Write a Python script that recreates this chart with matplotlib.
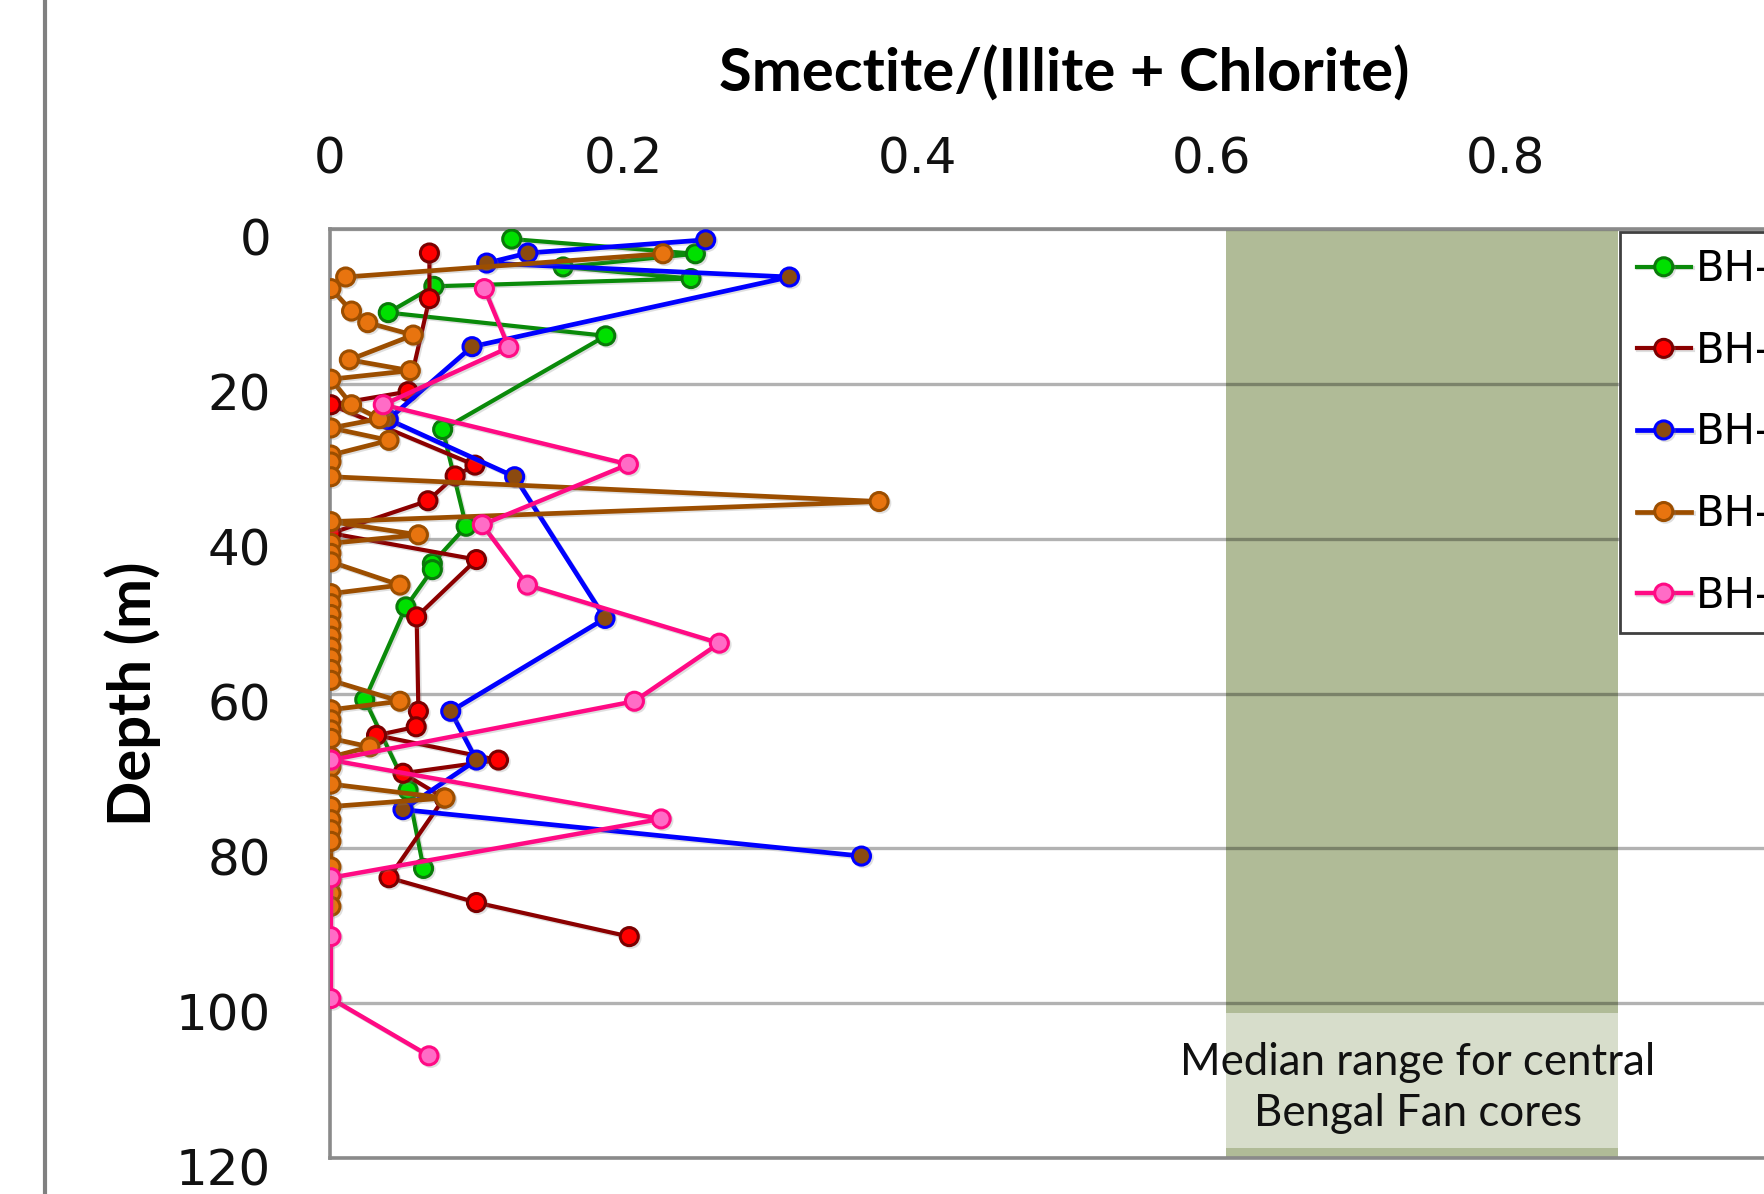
import matplotlib
matplotlib.use("Agg")
import matplotlib.pyplot as plt
import matplotlib.patheffects as pe
from matplotlib.lines import Line2D
from matplotlib.patches import Rectangle
from matplotlib.transforms import ScaledTranslation

# Clay-mineral ratio profiles with depth for five boreholes
series_labels = ["BH-1", "BH-2", "BH-3", "BH-4", "BH-5"]

bh1_ratio = [0.124, 0.249, 0.159, 0.246, 0.071, 0.040, 0.188, 0.077, 0.093,
             0.070, 0.070, 0.052, 0.024, 0.0535, 0.064]
bh1_depth = [1.3, 3.2, 4.9, 6.4, 7.4, 10.8, 13.8, 25.9, 38.4,
             43.2, 44.0, 48.8, 60.8, 72.5, 82.6]

bh2_ratio = [0.068, 0.068, 0.0535, 0.001, 0.099, 0.0855, 0.067, 0.001, 0.100,
             0.0593, 0.0605, 0.059, 0.032, 0.115, 0.050, 0.078, 0.0405, 0.100, 0.204]
bh2_depth = [3.1, 9.0, 21.0, 22.7, 30.5, 31.9, 35.1, 39.3, 42.7,
             50.1, 62.3, 64.3, 65.4, 68.6, 70.3, 73.5, 83.8, 87.0, 91.4]

bh3_ratio = [0.256, 0.135, 0.107, 0.313, 0.097, 0.040, 0.126, 0.1875, 0.0825,
             0.100, 0.050, 0.362]
bh3_depth = [1.4, 3.1, 4.4, 6.2, 15.2, 24.6, 32.0, 50.3, 62.3,
             68.6, 75.0, 81.0]

bh4_ratio = [0.227, 0.011, 0.001, 0.015, 0.026, 0.057, 0.0135, 0.055, 0.001,
             0.015, 0.034, 0.001, 0.0405, 0.001, 0.001, 0.001, 0.374, 0.001,
             0.0605, 0.001, 0.001, 0.001, 0.048, 0.001, 0.001, 0.001, 0.001,
             0.001, 0.001, 0.001, 0.001, 0.001, 0.048, 0.001, 0.001, 0.001,
             0.001, 0.0275, 0.001, 0.001, 0.001, 0.0786, 0.001, 0.001, 0.001,
             0.001, 0.001, 0.001, 0.001, 0.001]
bh4_depth = [3.2, 6.2, 7.7, 10.6, 12.1, 13.7, 16.9, 18.3, 19.4,
             22.7, 24.5, 25.7, 27.3, 29.2, 30.1, 32.0, 35.2, 37.8,
             39.5, 40.6, 41.9, 43.0, 46.0, 47.1, 48.4, 49.8, 51.2,
             52.6, 54.0, 55.4, 56.9, 58.3, 61.0, 62.1, 63.4, 64.7,
             65.8, 66.9, 68.2, 69.5, 71.7, 73.5, 74.6, 76.3, 77.6,
             79.1, 82.4, 84.1, 85.8, 87.5]

bh5_ratio = [0.1054, 0.122, 0.0366, 0.2034, 0.104, 0.1347, 0.2653, 0.2075,
             0.001, 0.2257, 0.001, 0.001, 0.001, 0.0677]
bh5_depth = [7.7, 15.3, 22.7, 30.4, 38.2, 46.0, 53.5, 61.0,
             68.6, 76.2, 83.8, 91.4, 99.4, 106.8]

# Median range of the ratio for central Bengal Fan cores
fan_range = [0.61, 0.877]
fan_label = "Median range for central\nBengal Fan cores"

x_ticks = [0, 0.2, 0.4, 0.6, 0.8]
x_ticklabels = ["0", "0.2", "0.4", "0.6", "0.8"]
y_ticks = [0, 20, 40, 60, 80, 100, 120]

W, H = 1764, 1194
fig = plt.figure(figsize=(W / 100, H / 100), dpi=100)
fig.patch.set_facecolor("white")

# axes box in pixels: left 329.5, top 229, bottom 1158, x = 1.0 at 1799
ax = fig.add_axes([329.5 / W, (H - 1158) / H, 1469.5 / W, 929 / H])
ax.set_xlim(0, 1.0)
ax.set_ylim(120, 0)

# shaded band of the fan-core range
ax.axvspan(fan_range[0], fan_range[1], ymin=0, ymax=1, facecolor="#B0BB97",
           edgecolor="none", zorder=0.8)
ax.add_patch(Rectangle((0.575, 101.3), 0.35, 17.4, facecolor="white",
                       alpha=0.5, edgecolor="none", zorder=0.9))
ax.text(sum(fan_range) / 2 - 0.003, 111.0, fan_label, ha="center", va="center",
        fontsize=31.5, family="Lato", color="#111111", linespacing=1.3, zorder=1)

styles = [
    dict(color="#0A8A0A", mfc="#00E000", mec="#0A7A0A", lw=3.0),
    dict(color="#8B0000", mfc="#FF0000", mec="#7A0000", lw=3.0),
    dict(color="#0000FF", mfc="#8B4A10", mec="#0000FF", lw=3.4),
    dict(color="#9C4E00", mfc="#E8740F", mec="#9C4E00", lw=3.4),
    dict(color="#FF0A84", mfc="#FF6CC6", mec="#FF0A84", lw=3.2),
]
all_series = [(bh1_ratio, bh1_depth), (bh2_ratio, bh2_depth),
              (bh3_ratio, bh3_depth), (bh4_ratio, bh4_depth),
              (bh5_ratio, bh5_depth)]

shadow = [pe.SimpleLineShadow(offset=(1.2, -1.2), shadow_color="#808080",
                              alpha=0.25), pe.Normal()]
for (xs, ds), st, lab in zip(all_series, styles, series_labels):
    ax.plot(xs, ds, color=st["color"], lw=st["lw"], marker="o",
            markersize=13, markerfacecolor=st["mfc"],
            markeredgecolor=st["mec"], markeredgewidth=2.2, label=lab,
            zorder=3, path_effects=shadow)

# grid and frame
ax.set_axisbelow("line")
ax.yaxis.grid(True, color="black", alpha=0.3, lw=2.4)
ax.xaxis.grid(False)
for side in ["left", "top", "bottom", "right"]:
    ax.spines[side].set_color("#8A8A8A")
    ax.spines[side].set_linewidth(2.6)

ax.xaxis.tick_top()
ax.set_xticks(x_ticks)
ax.set_xticklabels(x_ticklabels)
ax.set_yticks(y_ticks)
ax.tick_params(axis="x", length=0, pad=33, labelsize=36, labelcolor="#111111")
ax.tick_params(axis="y", length=0, pad=42, labelsize=36, labelcolor="#111111")
shift = ScaledTranslation(0, -0.08, fig.dpi_scale_trans)
for lbl in ax.get_yticklabels():
    lbl.set_transform(lbl.get_transform() + shift)

fig.text(1064 / W, 1 - 74 / H, "Smectite/(Illite + Chlorite)", ha="center",
         va="center", fontsize=43, fontweight="bold", family="Lato")
fig.text(133 / W, 1 - 694 / H, "Depth (m)", ha="center", va="center",
         rotation=90, fontsize=43, fontweight="bold", family="Lato")

leg = ax.legend(loc="upper left", bbox_to_anchor=(1620 / W, 1 - 231.7 / H),
                bbox_transform=fig.transFigure, borderaxespad=0,
                fontsize=30, frameon=True, fancybox=False, framealpha=1,
                handlelength=1.3, handletextpad=0.12, borderpad=0.4,
                labelspacing=0.95)
leg.get_frame().set_edgecolor("#404040")
leg.get_frame().set_linewidth(2.0)
leg.set_zorder(5)

# outer panel border on the left
fig.add_artist(Line2D([45 / W, 45 / W], [0, 1], transform=fig.transFigure,
                      color="#808080", lw=3))

fig.savefig("out.png", dpi=100, facecolor="white")
